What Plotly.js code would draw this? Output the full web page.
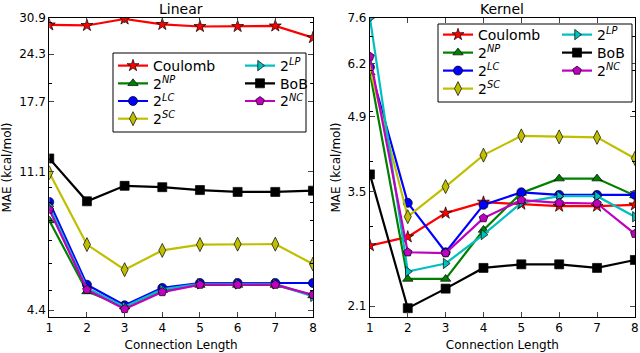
<!DOCTYPE html>
<html>
<head>
<meta charset="utf-8">
<script src="https://cdn.plot.ly/plotly-3.0.1.min.js"></script>
<style>body{margin:0;background:#fff}#chart{width:640px;height:353px}</style>
</head>
<body>
<div id="chart"></div>
<script>
// connection length
var connLength = [1, 2, 3, 4, 5, 6, 7, 8];

// Linear model MAE
var linCoulomb = [29.5, 29.4, 30.7, 29.6, 29.2, 29.2, 29.3, 27.1];
var linNP = [8.0, 4.98, 4.5, 5.02, 5.2, 5.2, 5.2, 4.85];
var linLC = [9.05, 5.21, 4.54, 5.1, 5.27, 5.27, 5.27, 5.27];
var linSC = [11.0, 6.81, 5.76, 6.55, 6.81, 6.83, 6.83, 5.98];
var linLP = [8.8, 5.1, 4.5, 5.05, 5.24, 5.24, 5.24, 4.82];
var linBoB = [12.1, 9.09, 10.08, 9.99, 9.8, 9.68, 9.68, 9.76];
var linNC = [8.6, 5.04, 4.43, 4.96, 5.21, 5.21, 5.21, 4.87];

// Kernel model MAE
var kerCoulomb = [2.75, 2.86, 3.18, 3.34, 3.31, 3.28, 3.28, 3.30];
var kerNP = [5.96, 2.37, 2.37, 2.95, 3.48, 3.71, 3.71, 3.44];
var kerLC = [6.1, 3.33, 2.67, 3.3, 3.49, 3.45, 3.45, 3.45];
var kerSC = [6.05, 3.13, 3.58, 4.12, 4.49, 4.47, 4.46, 4.06];
var kerLP = [7.6, 2.45, 2.54, 2.89, 3.33, 3.43, 3.43, 3.13];
var kerBoB = [3.78, 2.08, 2.27, 2.49, 2.53, 2.53, 2.49, 2.58];
var kerNC = [6.4, 2.67, 2.66, 3.11, 3.37, 3.33, 3.32, 2.90];

var linTicks = [4.4, 11.1, 17.7, 24.3, 30.9];
var kerTicks = [2.1, 3.5, 4.9, 6.2, 7.6];

// style per series; col/row = slot in the 2-column legend
var series = [
  {name: 'Coulomb', lin: linCoulomb, ker: kerCoulomb, color: '#ff0000', symbol: 'star', size: 9, col: 0, row: 0},
  {name: '2<sup><i>NP</i></sup>', lin: linNP, ker: kerNP, color: '#008000', symbol: 'triangle-up', size: 9, col: 0, row: 1},
  {name: '2<sup><i>LC</i></sup>', lin: linLC, ker: kerLC, color: '#0000ff', symbol: 'circle', size: 9, col: 0, row: 2},
  {name: '2<sup><i>SC</i></sup>', lin: linSC, ker: kerSC, color: '#bfbf00', symbol: 'diamond-tall', size: 10, col: 0, row: 3},
  {name: '2<sup><i>LP</i></sup>', lin: linLP, ker: kerLP, color: '#00bfbf', symbol: 'triangle-right', size: 9, col: 1, row: 0},
  {name: 'BoB', lin: linBoB, ker: kerBoB, color: '#000000', symbol: 'square', size: 9, col: 1, row: 1},
  {name: '2<sup><i>NC</i></sup>', lin: linNC, ker: kerNC, color: '#bf00bf', symbol: 'pentagon', size: 9, col: 1, row: 2}
];

var H = 353, W = 640;
// legend slot positions in pixels, one per panel
var legSlots = [
  {colX: [113, 240], y0: 66, dy: 17.7},
  {colX: [438, 557], y0: 35, dy: 18}
];

var font = {family: 'DejaVu Sans', size: 12, color: '#000'};

var layout = {
  width: W, height: H,
  margin: {l: 0, r: 0, t: 0, b: 0},
  paper_bgcolor: '#fff', plot_bgcolor: '#fff',
  showlegend: true,
  font: font
};

var data = [];
var legN = 1;
series.forEach(function (s) {
  var mk = {symbol: s.symbol, size: s.size, color: s.color, line: {color: '#000', width: 0.7}};
  [['x', 'y', s.lin], ['x2', 'y2', s.ker]].forEach(function (p, i) {
    var id = legN === 1 ? 'legend' : 'legend' + legN;
    legN++;
    var slot = legSlots[i];
    layout[id] = {x: slot.colX[s.col] / W, y: 1 - (slot.y0 + slot.dy * s.row) / H, xanchor: 'left', yanchor: 'middle',
      bgcolor: 'rgba(0,0,0,0)', borderwidth: 0, itemwidth: 30,
      font: {family: 'DejaVu Sans', size: 14, color: '#000'}};
    data.push({x: connLength, y: p[2], name: s.name, mode: 'lines+markers', line: {color: s.color, width: 2.2},
      marker: mk, xaxis: p[0], yaxis: p[1], legend: id});
  });
});

function xAx(dom, anchor) {
  return {domain: dom, anchor: anchor, range: [1, 8], tickvals: connLength, ticks: 'inside', ticklen: 5, showline: true,
    linecolor: '#000', linewidth: 1, mirror: 'ticks', showgrid: false, zeroline: false,
    title: {text: 'Connection Length', font: font, standoff: 6}, tickfont: font};
}
function yAx(range, vals, anchor) {
  return {type: 'log', range: range, tickvals: vals, ticktext: vals.map(function (v) { return v.toFixed(1); }),
    ticks: 'inside', ticklen: 5, showline: true, linecolor: '#000', linewidth: 1, mirror: 'ticks',
    showgrid: false, zeroline: false, anchor: anchor, domain: [0.102, 0.949],
    minor: {tickvals: [2, 3, 4, 5, 6, 7, 8, 9, 10, 20, 30], ticks: 'inside', ticklen: 3, tickcolor: '#000'},
    title: {text: 'MAE (kcal/mol)', font: font, standoff: 4}, tickfont: font};
}
function box(x0, x1, y0, y1) {
  return {type: 'rect', xref: 'paper', yref: 'paper', x0: x0 / W, x1: x1 / W, y0: 1 - y1 / H, y1: 1 - y0 / H,
    layer: 'above', fillcolor: '#fff', line: {color: '#000', width: 1}};
}

layout.xaxis = xAx([0.077, 0.489], 'y');
layout.yaxis = yAx([Math.log10(4.2), Math.log10(30.9)], linTicks, 'x');
layout.xaxis2 = xAx([0.578, 0.992], 'y2');
layout.yaxis2 = yAx([Math.log10(2.0), Math.log10(7.6)], kerTicks, 'x2');
layout.shapes = [box(113, 306, 53, 132), box(438, 632, 24, 102)];
layout.annotations = [
  {text: 'Linear', x: 0.283, y: 1 - 9 / H, xref: 'paper', yref: 'paper', xanchor: 'center', yanchor: 'middle',
    showarrow: false, font: {family: 'DejaVu Sans', size: 14, color: '#000'}},
  {text: 'Kernel', x: 0.785, y: 1 - 9 / H, xref: 'paper', yref: 'paper', xanchor: 'center', yanchor: 'middle',
    showarrow: false, font: {family: 'DejaVu Sans', size: 14, color: '#000'}}
];

Plotly.newPlot('chart', data, layout, {staticPlot: true});
</script>
</body>
</html>
